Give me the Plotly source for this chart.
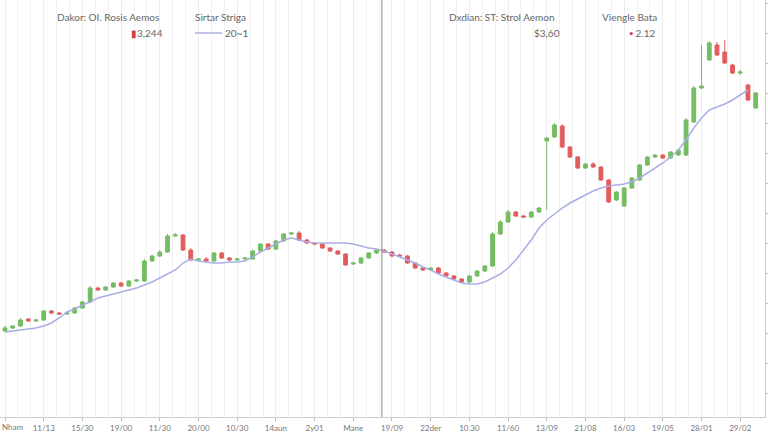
import plotly.graph_objects as go

idx = list(range(98))

opens = [54.5, 56, 57, 60.5, 59.5, 60, 64.5, 63.5, 63, 63.5,
         66, 69, 76, 75, 76.5, 78.5, 77, 79.5, 79.5, 89.5,
         92, 94, 102, 102.5, 95, 90, 90.5, 89.5, 93.5, 91,
         90, 90.5, 90.5, 94.5, 98, 95.5, 99.5, 103, 103.5, 100,
         98.5, 98, 96, 94.5, 93, 88, 88.5, 91, 93.5, 95,
         94, 92.5, 92, 88.5, 86, 85, 86, 83.5, 82, 80.5,
         79, 82, 84.5, 87, 103, 109, 114, 112, 111.5, 114,
         149.5, 151.5, 157, 146.5, 141.5, 136, 138, 136.5, 130, 120,
         117, 126, 130, 137.5, 141.5, 142.5, 141, 142.5, 142.5, 159,
         176, 190, 197.5, 194, 187.5, 183.5, 177.5, 166]
highs = [57, 57.5, 61, 61, 60.5, 65, 65, 64, 64, 66.5,
         69.5, 77, 76.5, 77, 79, 79, 80, 80.5, 90.5, 92.5,
         95, 103, 103.5, 103, 96, 91, 91.5, 94, 94, 91.5,
         91, 91.5, 95, 98.5, 98.5, 100, 103.5, 104, 104.5, 100.5,
         99, 98.5, 96.5, 95, 93.5, 89, 91.5, 94, 95.5, 95.5,
         94.5, 93, 92.5, 89, 86.5, 86.5, 86.5, 84, 82.5, 81,
         82.5, 85, 87.5, 104, 110, 115, 114.5, 112.5, 114.5, 116.5,
         151.5, 158.5, 158, 147, 142, 138.5, 139, 137, 130.5, 124.5,
         126.5, 131.5, 138, 142, 143, 143, 144.5, 145.5, 161, 177,
         197.5, 199.5, 199, 200, 188, 185, 178, 174]
lows = [54, 55.5, 56.5, 59, 59, 59.5, 63, 62.5, 62.5, 63,
        65.5, 68.5, 74.5, 74.5, 76, 76.5, 76.5, 79, 79, 89,
        91.5, 93.5, 101.5, 94.5, 89.5, 89.5, 89, 89, 90.5, 89.5,
        89.5, 90, 90, 94, 95, 95, 99, 102.5, 99.5, 98,
        97.5, 95.5, 94, 92.5, 87, 87.5, 88, 90.5, 93, 93.5,
        91.5, 91.5, 88, 85.5, 84.5, 84.5, 83, 81.5, 80, 78.5,
        78.5, 81.5, 84, 86.5, 102.5, 108.5, 111.5, 111, 111, 113.5,
        115, 151, 146, 141, 135.5, 135.5, 136, 129.5, 118.5, 119.5,
        116.5, 125.5, 129.5, 137, 141, 140.5, 140.5, 142, 142, 158.5,
        175.5, 189.5, 192, 188, 183, 182.5, 169.5, 165.5]
closes = [56, 57, 60, 59.5, 60, 64.5, 63.5, 63, 63.5, 66,
          69, 76, 75, 76.5, 78.5, 77, 79.5, 80, 89.5, 92,
          94, 102, 102.5, 95, 90, 90.5, 89.5, 93.5, 91, 90,
          90.5, 91, 94.5, 98, 95.5, 99.5, 103, 103.5, 100, 98.5,
          98, 96, 94.5, 93, 87.5, 88.5, 91, 93.5, 95, 94,
          92, 92, 88.5, 86, 85, 86, 83.5, 82, 80.5, 79,
          82, 84.5, 87, 103, 109, 114, 112, 111.5, 114, 116,
          151, 157.5, 146.5, 141.5, 136, 138, 136.5, 130, 119, 124,
          126, 131, 137.5, 141.5, 142.5, 141, 144, 145, 160, 176,
          177, 198.5, 192.5, 188.5, 183.5, 184, 170, 173.5]

ma_values = [54, 54.5, 55, 55.5, 56, 57, 58.5, 61, 64, 65.5,
             67.5, 69, 71, 72, 73, 74, 75, 76, 77.5, 79,
             81, 83, 85, 88.5, 90.5, 89.5, 89, 88.5, 88.5, 89,
             89, 89.5, 91.5, 94, 96, 98, 100, 101, 100, 99,
             98.5, 98.5, 98.5, 98.5, 98.5, 98, 97, 96, 95.5, 94.5,
             93, 91.5, 90, 88.5, 86.5, 85, 83, 81.5, 80, 78.5,
             78, 78, 79, 81, 83, 86, 90, 95, 100, 106,
             110, 113, 116, 118.5, 120.5, 122.5, 124.5, 126, 127, 127.5,
             128, 129, 131, 133.5, 136, 138.5, 141.5, 145, 150, 156,
             161, 165, 166.5, 168, 170, 172.5, 175]

tick_pos = list(range(0, 100, 5))
tick_text = ["Nham", "11/13", "15/30", "19/00", "11/30", "20/00", "10/30",
             "14aun", "2y01", "Mane", "19/09", "22der", "10.30", "11/60",
             "13/09", "21/08", "16/03", "19/05", "28/01", "29/02"]

GREEN = "#74bd62"
RED = "#e35d5d"
MA_COLOR = "#a9aee6"

fig = go.Figure()
fig.add_trace(go.Candlestick(
    x=idx, open=opens, high=highs, low=lows, close=closes,
    increasing=dict(line=dict(color=GREEN, width=1), fillcolor=GREEN),
    decreasing=dict(line=dict(color=RED, width=1), fillcolor=RED),
    whiskerwidth=0, showlegend=False, hoverinfo="skip"))
fig.add_trace(go.Scatter(
    x=idx[:len(ma_values)], y=ma_values, mode="lines",
    line=dict(color=MA_COLOR, width=1.5), showlegend=False, hoverinfo="skip"))

W, H = 768, 432
ML, MR, MT, MB = 0, 3, 0, 15
PW, PH = W - ML - MR, H - MT - MB

def px(x):
    return (x - ML) / PW

def py(y):
    return 1 - (y - MT) / PH

TXT = dict(family="Lato, 'Open Sans', sans-serif", size=10, color="#666666")
TICKFONT = dict(family="Lato, sans-serif", size=8, color="#777777")

anns = [
    ("Dakor: OI. Rosis Aemos", 55, 17, "left"),
    ("<span style='color:#d04040'>▮</span>3,244", 165, 33, "right"),
    ("Sirtar Striga", 193, 17, "left"),
    ("20~1", 250, 33, "right"),
    ("Dxdian: ST: Strol Aemon", 447, 17, "left"),
    ("$3,60", 562, 33, "right"),
    ("Viengle Bata", 600, 17, "left"),
    ("<span style='color:#d04040'>▪</span> 2.12", 658, 33, "right"),
]
for text, x, y, anchor in anns:
    fig.add_annotation(text=text, x=px(x), y=py(y), xref="paper", yref="paper",
                       xanchor=anchor, yanchor="middle", showarrow=False, font=TXT)

# first tick label sits at the left edge; draw it as an annotation kept inside the page
fig.add_annotation(text=tick_text[0], x=0, xref="paper", y=py(427), yref="paper",
                   xanchor="left", yanchor="middle", showarrow=False, font=TICKFONT,
                   xshift=0)

fig.add_shape(type="line", xref="paper", yref="paper",
              x0=px(195), x1=px(222), y0=py(33), y1=py(33),
              line=dict(color=MA_COLOR, width=1.5))
fig.add_shape(type="line", xref="x", yref="paper", x0=48.7, x1=48.7, y0=0, y1=1,
              line=dict(color="#8a8a8a", width=1))

fig.update_layout(
    width=W, height=H,
    margin=dict(l=ML, r=MR, t=MT, b=MB),
    paper_bgcolor="white", plot_bgcolor="white",
    xaxis=dict(range=[-0.65, 98.2], tickmode="array", tickvals=tick_pos, ticktext=tick_text,
               showgrid=True, gridcolor="#ececec", gridwidth=1,
               minor=dict(dtick=5/3, tick0=0, showgrid=True, gridcolor="#f1f1f1"),
               showline=True, linecolor="#cccccc", ticks="outside", ticklen=3,
               tickcolor="#bbbbbb", tickfont=TICKFONT,
               rangeslider=dict(visible=False), zeroline=False, fixedrange=True),
    yaxis=dict(range=[11.5, 220], side="right", showgrid=False, showticklabels=False,
               showline=True, linecolor="#cccccc", ticks="outside", ticklen=3,
               tickcolor="#bbbbbb", tick0=8.5, dtick=15, zeroline=False, fixedrange=True),
)

fig.write_html("out.html", config={"displayModeBar": False},
               post_script="document.body.style.margin='0';")
